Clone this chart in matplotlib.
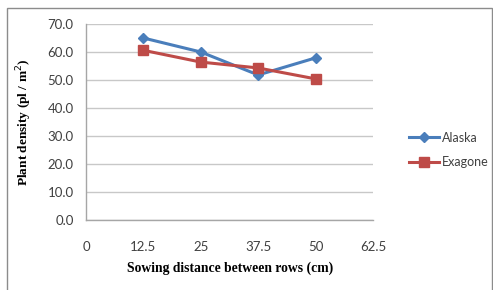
import matplotlib
matplotlib.use("Agg")
import matplotlib.pyplot as plt
from matplotlib.patches import Rectangle

# data
distance = [12.5, 25, 37.5, 50]
alaska = [65.0, 60.0, 51.8, 57.9]
exagone = [60.6, 56.4, 54.3, 50.4]
x_ticks = [0, 12.5, 25, 37.5, 50, 62.5]
x_tick_labels = ['0', '12.5', '25', '37.5', '50', '62.5']
y_ticks = [0, 10, 20, 30, 40, 50, 60, 70]

W, H = 493, 290
fig = plt.figure(figsize=(W / 100, H / 100), dpi=100)

# outer chart frame
fig.patches.append(Rectangle((7 / W, -0.05), (492 - 7) / W, 1 - 8 / H + 0.05,
                             transform=fig.transFigure, fill=False,
                             edgecolor='#8c8c8c', linewidth=1.0))

ax = fig.add_axes([86 / W, 1 - 220 / H, (373 - 86) / W, (220 - 24) / H])

ax.plot(distance, alaska, color='#4a7ebb', marker='D', markersize=5.5,
        linewidth=2.2, label='Alaska')
ax.plot(distance, exagone, color='#be4b48', marker='s', markersize=7,
        linewidth=2.2, label='Exagone')

ax.set_xlim(0, 62.5)
ax.set_ylim(0, 70)
ax.set_xticks(x_ticks)
ax.set_xticklabels(x_tick_labels)
ax.set_yticks(y_ticks)
ax.set_yticklabels(['%.1f' % v for v in y_ticks])
ax.grid(axis='y', color='#c8c8c8', linewidth=1.0)
ax.set_axisbelow(True)

for s in ['top', 'right']:
    ax.spines[s].set_visible(False)
for s in ['left', 'bottom']:
    ax.spines[s].set_color('#a6a6a6')
    ax.spines[s].set_linewidth(1.0)

ax.tick_params(axis='both', length=0, labelsize=9.5, labelcolor='#404040')
ax.tick_params(axis='x', pad=15)
ax.tick_params(axis='y', pad=9)
for lbl in ax.get_xticklabels() + ax.get_yticklabels():
    lbl.set_family('Lato')

ax.set_xlabel('Sowing distance between rows (cm)', family='Liberation Serif',
              fontweight='bold', fontsize=9.8)
ax.set_ylabel('Plant density (pl / m$^{2}$)', family='Liberation Serif',
              fontweight='bold', fontsize=9.6)
ax.xaxis.label.set_va('center')
ax.yaxis.label.set_va('center')
ax.xaxis.set_label_coords((230 - 86) / (373 - 86), -(268 - 220) / (220 - 24))
ax.yaxis.set_label_coords(-(86 - 24) / (373 - 86), 0.5)

leg = ax.legend(loc='center left', bbox_to_anchor=(398 / W, 1 - 150 / H),
                bbox_transform=fig.transFigure, frameon=False,
                prop={'family': 'Lato', 'size': 9}, handlelength=2.4,
                handletextpad=0.2, labelspacing=1.0)
for t in leg.get_texts():
    t.set_color('#404040')

fig.savefig('out.png', dpi=100)
